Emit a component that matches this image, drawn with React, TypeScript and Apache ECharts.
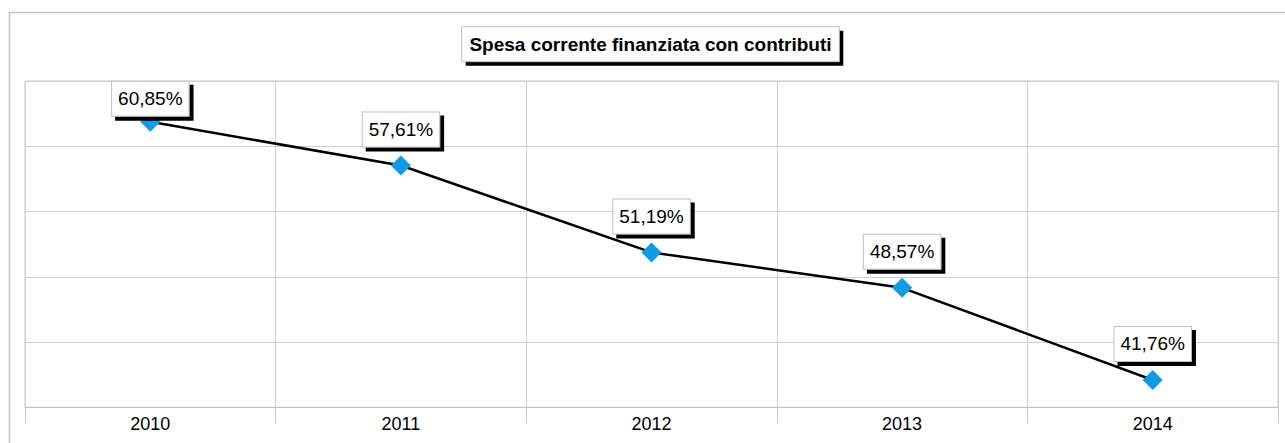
import React, { useEffect, useRef } from "react";
import * as echarts from "echarts";

const years = ["2010", "2011", "2012", "2013", "2014"];
const values = [60.85, 57.61, 51.19, 48.57, 41.76];
const titleText = "Spesa corrente finanziata con contributi";
const FONT = "'Liberation Sans', Arial, sans-serif";

export default function App() {
  const ref = useRef<HTMLDivElement>(null);
  useEffect(() => {
    if (!ref.current) return;
    const chart = echarts.init(ref.current, null, { renderer: "svg" });
    const data = values.map((v, i) =>
      i === 0 ? { value: v, label: { offset: [0, 13] } } : { value: v }
    );
    chart.setOption({
      animation: false,
      backgroundColor: "#ffffff",
      grid: {
        left: 25,
        right: 7,
        top: 81,
        bottom: 35.7,
        show: true,
        borderColor: "#c8c8c8",
        borderWidth: 1,
        backgroundColor: "transparent",
      },
      graphic: [
        {
          type: "rect",
          z: -10,
          silent: true,
          shape: { x: 9.5, y: 12.5, width: 1300, height: 460 },
          style: { fill: "none", stroke: "#c4c4c4", lineWidth: 1.5 },
        },
        {
          type: "rect",
          silent: true,
          shape: { x: 465.7, y: 30.7, width: 377.6, height: 35 },
          style: { fill: "#000000" },
        },
        {
          type: "rect",
          silent: true,
          shape: { x: 461.7, y: 26.7, width: 377.6, height: 35 },
          style: { fill: "#ffffff", stroke: "#c0c0c0", lineWidth: 1 },
        },
        {
          type: "text",
          silent: true,
          x: 650.5,
          y: 44.5,
          style: {
            text: titleText,
            fill: "#000000",
            font: `bold 19px ${FONT}`,
            align: "center",
            verticalAlign: "middle",
          },
        },
      ],
      xAxis: {
        type: "category",
        data: years,
        boundaryGap: true,
        axisLine: { show: true, lineStyle: { color: "#c0c0c0", width: 1 } },
        axisTick: {
          show: true,
          length: 16,
          interval: 0,
          lineStyle: { color: "#c8c8c8", width: 1 },
        },
        splitLine: { show: true, interval: 0, lineStyle: { color: "#cfcfcf", width: 1 } },
        axisLabel: {
          color: "#000000",
          fontSize: 18,
          fontFamily: FONT,
          margin: 8,
          interval: 0,
        },
      },
      yAxis: [
        {
          type: "value",
          min: 39.74,
          max: 63.86,
          show: false,
          splitLine: { show: false },
        },
        {
          type: "value",
          min: 0,
          max: 5,
          interval: 1,
          axisLine: { show: false },
          axisTick: { show: false },
          axisLabel: { show: false },
          splitLine: { show: true, lineStyle: { color: "#cfcfcf", width: 1 } },
        },
      ],
      series: [
        {
          type: "line",
          yAxisIndex: 0,
          data,
          symbol: "diamond",
          symbolSize: 20,
          lineStyle: { color: "#000000", width: 2.5 },
          itemStyle: { color: "#0f9ae3" },
          z: 5,
          label: {
            show: true,
            position: "top",
            distance: 9,
            formatter: (p: any) =>
              Number(p.value).toFixed(2).replace(".", ",") + "%",
            color: "#000000",
            fontSize: 19,
            fontFamily: FONT,
            backgroundColor: "#ffffff",
            borderColor: "#c0c0c0",
            borderWidth: 1,
            padding: [6, 6, 6, 6],
            lineHeight: 22,
            shadowColor: "#000000",
            shadowBlur: 0,
            shadowOffsetX: 4,
            shadowOffsetY: 4,
          },
        },
      ],
    });
    return () => chart.dispose();
  }, []);
  return (
    <div
      ref={ref}
      style={{ position: "fixed", left: 0, top: 0, width: 1285, height: 443 }}
    />
  );
}
